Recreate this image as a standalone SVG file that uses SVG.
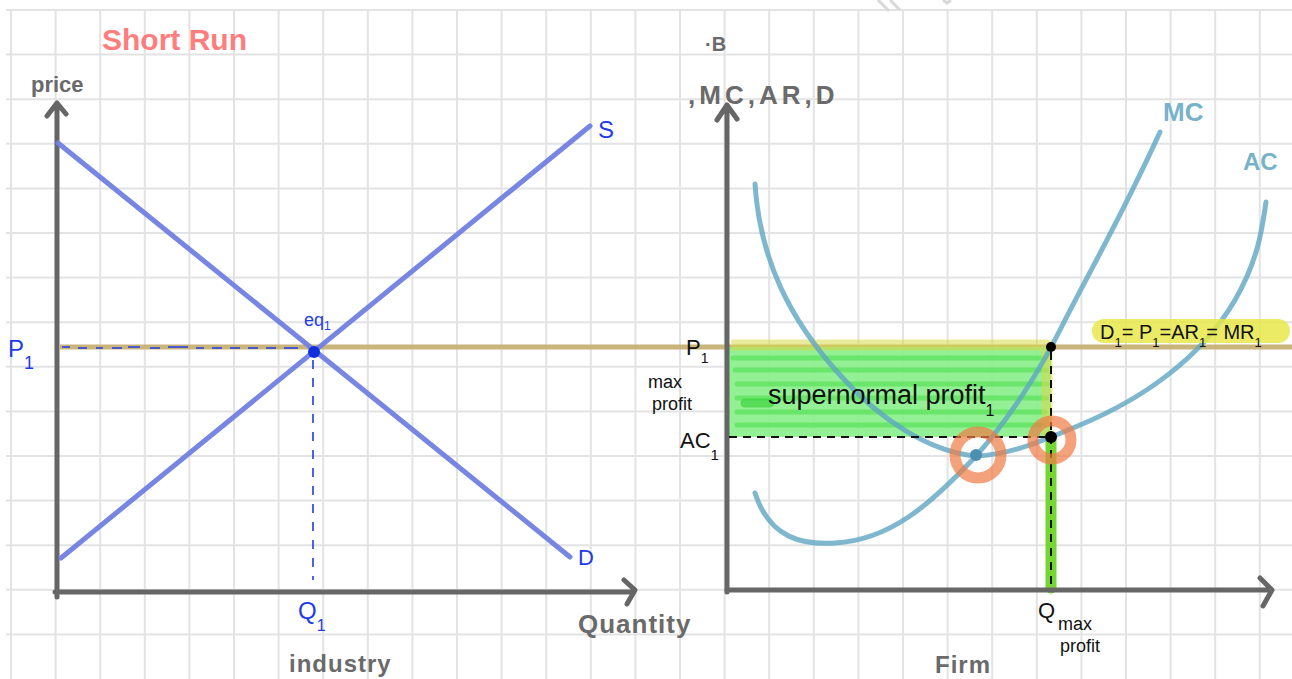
<svg xmlns="http://www.w3.org/2000/svg" width="1292" height="679" viewBox="0 0 1292 679">
<style>
.grid{stroke:#e3e3e3;stroke-width:2;fill:none}
.axis{stroke:#666;stroke-width:5;fill:none;stroke-linecap:round;stroke-linejoin:round}
.ind{stroke:#7080e0;stroke-width:5;fill:none;stroke-linecap:round;opacity:.95}
.firm{stroke:#5fa6c2;stroke-width:5;fill:none;stroke-linecap:round;opacity:.8}
.blue{font-family:"Liberation Sans",sans-serif;fill:#1f3be8}
.gray{font-family:"Liberation Sans",sans-serif;fill:#6a6a6a;font-weight:bold}
.ink{font-family:"Liberation Sans",sans-serif;fill:#111}
.dash{stroke:#111;stroke-width:2;stroke-dasharray:8 6;fill:none}
</style>
<rect width="1292" height="679" fill="#fff"/>
<g id="grid">
<path class="grid" d="M11 10V679M55.6 10V679M100.2 10V679M144.8 10V679M189.4 10V679M234 10V679M278.6 10V679M323.2 10V679M367.8 10V679M412.4 10V679M457 10V679M501.6 10V679M546.2 10V679M590.8 10V679M635.4 10V679M680 10V679M724.6 10V679M769.2 10V679M813.8 10V679M858.4 10V679M903 10V679M947.6 10V679M992.2 10V679M1036.8 10V679M1081.4 10V679M1126 10V679M1170.6 10V679M1215.2 10V679M1259.8 10V679"/>
<path class="grid" d="M6 10H1292M6 54.6H1292M6 99.2H1292M6 143.8H1292M6 188.4H1292M6 233H1292M6 277.6H1292M6 322.2H1292M6 366.8H1292M6 411.4H1292M6 456H1292M6 500.6H1292M6 545.2H1292M6 589.8H1292M6 634.4H1292"/>
<path d="M878 0L889 11M890 0L900 10M943 0L947 3L951 0" stroke="#d8d8d8" stroke-width="3" fill="none"/>
</g>
<g id="title"><text x="102" y="50" font-family="Liberation Sans,sans-serif" font-weight="bold" font-size="30" fill="#ff6f6f" opacity=".9">Short Run</text></g>

<g id="connectors">
<line x1="60" y1="347" x2="1292" y2="347" stroke="#c9b47a" stroke-width="5"/>
<rect x="729" y="347" width="322" height="90" fill="#88ee88" opacity=".9"/>
<path d="M733 358H1045M735 370H1046M737 384H1047M737 398H1046M737 412H1045M737 425H1044" stroke="#3fdc3f" stroke-width="5" opacity=".5" fill="none" stroke-linecap="round"/>
<path d="M745 403H770" stroke="#2fd02f" stroke-width="9" opacity=".6" stroke-linecap="round"/>
<path d="M731 345H1047V437" stroke="#d8d84a" stroke-width="11" opacity=".55" fill="none" stroke-linejoin="round"/>
<line x1="1051" y1="440" x2="1051" y2="588" stroke="#76d631" stroke-width="11" stroke-linecap="round"/>
<path class="axis" d="M57 597V104M47 116L57 103L66 114"/>
<path class="axis" d="M55 592H634M624 580L635 590L627 604"/>
<path class="axis" d="M727 592V106M717 120L727 105L737 119"/>
<path class="axis" d="M727 590H1271M1260 578L1272 590L1263 606"/>
<line class="ind" x1="58" y1="143" x2="570" y2="557"/>
<line class="ind" x1="61" y1="558" x2="590" y2="126"/>
<path d="M62 347h8M78 348h9M96 348h7M112 348h10M128 347h12M150 348h10M168 347h20M196 348h8M212 348h10M230 348h10M248 348h10M266 348h10M284 348h14" stroke="#1f3be8" stroke-width="1.5" fill="none"/>
<path d="M313 360V580" stroke="#1f3be8" stroke-width="1.6" stroke-dasharray="9 9" fill="none"/>
<circle cx="314" cy="352" r="6" fill="#1030e0"/>
<path class="firm" d="M755 184C760 260 790 320 840 375C880 420 930 452 976 456C1010 455 1045 440 1080 425C1140 400 1200 360 1235 300C1258 260 1262 230 1266 202"/>
<path class="firm" d="M755 493C770 540 805 545 835 543C890 540 930 505 976 456C1010 418 1040 370 1060 330C1090 270 1120 220 1160 132"/>
<circle cx="1051" cy="347" r="5" fill="#000"/>
<path class="dash" d="M729 437H1048M1051 352V586"/>
<circle cx="978" cy="455" r="23" fill="none" stroke="#f07a45" stroke-width="11" opacity=".7"/>
<circle cx="1052" cy="440" r="19" fill="none" stroke="#f07a45" stroke-width="11" opacity=".7"/>
<circle cx="976" cy="455" r="6" fill="#4c8fb0"/>
<circle cx="1051" cy="437" r="6" fill="#000"/>
</g>

<g id="industry-labels">
<text class="gray" x="31" y="92" font-size="22">price</text>
<text class="blue" x="8" y="357" font-size="24">P<tspan dy="12" font-size="18">1</tspan></text>
<text class="blue" x="304" y="326" font-size="18">eq<tspan dy="4" font-size="12">1</tspan></text>
<text class="blue" x="598" y="138" font-size="24">S</text>
<text class="blue" x="578" y="565" font-size="22">D</text>
<text class="blue" x="298" y="619" font-size="24">Q<tspan dy="12" font-size="16">1</tspan></text>
<text class="gray" x="578" y="633" font-size="26" letter-spacing="1">Quantity</text>
<text class="gray" x="289" y="672" font-size="24" letter-spacing="1">industry</text>
</g>

<g id="firm-labels">
<text class="gray" x="705" y="51" font-size="20">·B</text>
<text class="gray" x="688" y="104" font-size="26" letter-spacing="4">,MC,AR,D</text>
<text x="1163" y="121" font-family="Liberation Sans,sans-serif" font-weight="bold" font-size="26" fill="#5fa6c2" opacity=".85">MC</text>
<text x="1243" y="170" font-family="Liberation Sans,sans-serif" font-weight="bold" font-size="24" fill="#5fa6c2" opacity=".85">AC</text>
<rect x="1092" y="319" width="198" height="24" rx="12" fill="#e8e84a" opacity=".85"/>
<text class="ink" x="1100" y="339" font-size="20">D<tspan dy="8" font-size="13">1</tspan><tspan dy="-8">= P</tspan><tspan dy="8" font-size="13">1</tspan><tspan dy="-8">=AR</tspan><tspan dy="8" font-size="13">1</tspan><tspan dy="-8">= MR</tspan><tspan dy="8" font-size="13">1</tspan></text>
<text class="ink" x="686" y="355" font-size="22">P<tspan dy="8" font-size="14">1</tspan></text>
<text class="ink" x="648" y="388" font-size="18">max</text>
<text class="ink" x="652" y="410" font-size="18">profit</text>
<text class="ink" x="680" y="448" font-size="22">AC<tspan dy="12" font-size="15">1</tspan></text>
<text class="ink" x="768" y="404" font-size="27">supernormal profit<tspan dy="12" font-size="16">1</tspan></text>
<text class="ink" x="1038" y="618" font-size="22">Q</text>
<text class="ink" x="1058" y="630" font-size="18">max</text>
<text class="ink" x="1060" y="652" font-size="18">profit</text>
<text class="gray" x="935" y="673" font-size="24" letter-spacing="1">Firm</text>
</g>
</svg>
